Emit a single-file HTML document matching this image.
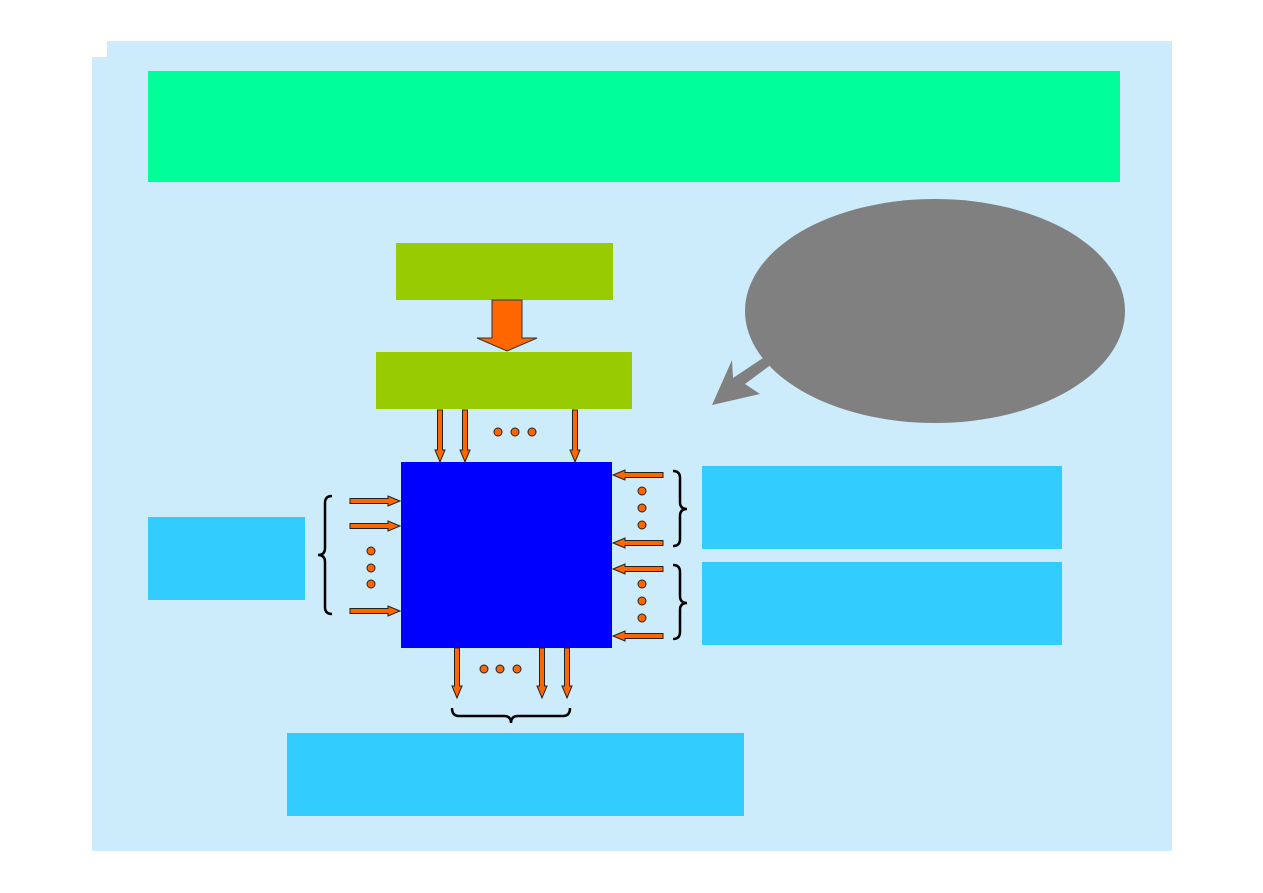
<!DOCTYPE html>
<html><head><meta charset="utf-8"><style>html,body{margin:0;padding:0;background:#fff;}svg{display:block}</style></head>
<body>
<svg width="1263" height="893" viewBox="0 0 1263 893" xmlns="http://www.w3.org/2000/svg">
<rect x="0" y="0" width="1263" height="893" fill="#fff"/>
<rect x="107" y="41" width="1065" height="810" fill="#CCEBFB"/>
<rect x="92" y="57" width="30" height="794" fill="#CCEBFB"/>
<rect x="148" y="71" width="972" height="111" fill="#00FF99"/>
<rect x="396" y="243" width="217" height="57" fill="#99CC00"/>
<rect x="376" y="352" width="256" height="57" fill="#99CC00"/>
<ellipse cx="935" cy="311" rx="190" ry="112" fill="#808080"/>
<polygon points="766,356 772,364 745,384 760,394 712,405 732,360 733,378" fill="#808080"/>
<polygon points="492,300 522,300 522,338 537,338 507,351 477,338 492,338" fill="#FF6600" stroke="#333" stroke-width="1"/>
<rect x="401" y="462" width="211" height="186" fill="#0000FF"/>
<rect x="148" y="517" width="157" height="83" fill="#33CCFF"/>
<rect x="702" y="466" width="360" height="83" fill="#33CCFF"/>
<rect x="702" y="562" width="360" height="83" fill="#33CCFF"/>
<rect x="287" y="733" width="457" height="83" fill="#33CCFF"/>
<g fill="#FF6600" stroke="#222" stroke-width="1">
<!-- down arrows top -->
<polygon points="437.5,410 442.5,410 442.5,450 445,450 440,462 435,450 437.5,450"/>
<polygon points="462.5,410 467.5,410 467.5,450 470,450 465,462 460,450 462.5,450"/>
<polygon points="572.5,410 577.5,410 577.5,450 580,450 575,462 570,450 572.5,450"/>
<!-- down arrows bottom -->
<polygon points="454.5,648 459.5,648 459.5,686 462,686 457,698 452,686 454.5,686"/>
<polygon points="539.5,648 544.5,648 544.5,686 547,686 542,698 537,686 539.5,686"/>
<polygon points="564.5,648 569.5,648 569.5,686 572,686 567,698 562,686 564.5,686"/>
<!-- right arrows left side -->
<polygon points="350,498.5 388,498.5 388,496 400,501 388,506 388,503.5 350,503.5"/>
<polygon points="350,523.5 388,523.5 388,521 400,526 388,531 388,528.5 350,528.5"/>
<polygon points="350,608.5 388,608.5 388,606 400,611 388,616 388,613.5 350,613.5"/>
<!-- left arrows right side -->
<polygon points="663,472.5 625,472.5 625,470 613,475 625,480 625,477.5 663,477.5"/>
<polygon points="663,540.5 625,540.5 625,538 613,543 625,548 625,545.5 663,545.5"/>
<polygon points="663,566.5 625,566.5 625,564 613,569 625,574 625,571.5 663,571.5"/>
<polygon points="663,633.5 625,633.5 625,631 613,636 625,641 625,638.5 663,638.5"/>
<!-- dots -->
<circle cx="498" cy="432" r="4"/><circle cx="515" cy="432" r="4"/><circle cx="532" cy="432" r="4"/>
<circle cx="484" cy="669" r="4"/><circle cx="500" cy="669" r="4"/><circle cx="517" cy="669" r="4"/>
<circle cx="371" cy="551" r="4"/><circle cx="371" cy="568" r="4"/><circle cx="371" cy="584" r="4"/>
<circle cx="642" cy="491" r="4"/><circle cx="642" cy="508" r="4"/><circle cx="642" cy="525" r="4"/>
<circle cx="642" cy="584" r="4"/><circle cx="642" cy="601" r="4"/><circle cx="642" cy="618" r="4"/>
</g>
<g fill="none" stroke="#000" stroke-width="2.5">
<path d="M332,496 Q325,496 325,503 L325,548 Q325,555 318,555 Q325,555 325,562 L325,607 Q325,614 332,614"/>
<path d="M673,471 Q680,471 680,478 L680,502 Q680,509 687,509 Q680,509 680,516 L680,539 Q680,546 673,546"/>
<path d="M673,565 Q680,565 680,572 L680,596 Q680,603 687,603 Q680,603 680,610 L680,632 Q680,639 673,639"/>
<path d="M452,708 Q452,716 459,716 L504,716 Q511,716 511,723 Q511,716 518,716 L563,716 Q570,716 570,708"/>
</g>
</svg>
</body></html>
